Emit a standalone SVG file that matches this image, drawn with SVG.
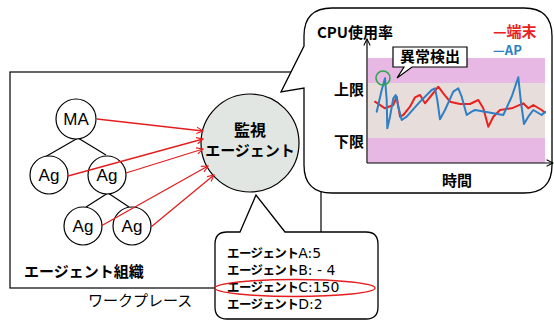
<svg xmlns="http://www.w3.org/2000/svg" width="554" height="322" viewBox="0 0 554 322">
<style>
.jp{font-family:"Noto Sans CJK JP","Liberation Sans",sans-serif}
.b{font-weight:700}
.node{fill:#fff;stroke:#000;stroke-width:1.2}
.lat{font-family:"Liberation Sans","Noto Sans",sans-serif;font-size:17px}
.blk{fill:none;stroke:#000;stroke-width:1.2}
.arr{fill:none;stroke:#e41e1e;stroke-width:1.3}
.kt{font-family:"Noto Sans CJK JP",sans-serif;font-weight:700;font-size:12.5px;letter-spacing:-0.6px}
.lt{font-family:"DejaVu Sans","Liberation Sans",sans-serif;font-weight:400;font-size:14px;letter-spacing:0}
</style>
<defs>
<marker id="ra" viewBox="0 0 10 10" refX="9" refY="5" markerWidth="8" markerHeight="8" markerUnits="userSpaceOnUse" orient="auto"><path d="M1,1 L9,5 L1,9" fill="none" stroke="#e41e1e" stroke-width="1.4"/></marker>
<marker id="ka" viewBox="0 0 10 10" refX="9" refY="5" markerWidth="8" markerHeight="8" markerUnits="userSpaceOnUse" orient="auto"><path d="M1,1 L9,5 L1,9" fill="none" stroke="#000" stroke-width="1.3"/></marker>
</defs>
<rect width="554" height="322" fill="#fff"/>
<g id="workplace">
<rect x="10" y="72" width="311" height="216" class="blk"/>
<text x="88" y="306" class="jp" font-size="15">ワークプレース</text>
<text x="24" y="277" class="jp b" font-size="15">エージェント組織</text>
</g>
<g id="tree-lines">
<line x1="78" y1="138" x2="45" y2="157" class="blk"/>
<line x1="78" y1="138" x2="106" y2="155" class="blk"/>
<line x1="108" y1="193" x2="86" y2="207" class="blk"/>
<line x1="108" y1="193" x2="129" y2="207" class="blk"/>
</g>
<g id="node-ma"><circle cx="76" cy="119" r="20" class="node"/><text x="76" y="125" text-anchor="middle" class="lat">MA</text></g>
<g id="node-ag1"><circle cx="49" cy="175" r="19" class="node"/><text x="49" y="181" text-anchor="middle" class="lat">Ag</text></g>
<g id="node-ag2"><circle cx="107" cy="175" r="19" class="node"/><text x="107" y="181" text-anchor="middle" class="lat">Ag</text></g>
<g id="node-ag3"><circle cx="83" cy="226" r="19" class="node"/><text x="83" y="232" text-anchor="middle" class="lat">Ag</text></g>
<g id="node-ag4"><circle cx="132" cy="226" r="19" class="node"/><text x="132" y="232" text-anchor="middle" class="lat">Ag</text></g>
<g id="node-monitor"><circle cx="250" cy="143" r="49" fill="#e2e6e3" stroke="#000" stroke-width="1.2"/>
<text x="250" y="136" text-anchor="middle" class="jp b" font-size="16">監視</text>
<text x="250" y="156" text-anchor="middle" class="jp b" font-size="15">エージェント</text></g>
<g id="connectors">
<line x1="97" y1="119" x2="203" y2="131" class="arr" marker-end="url(#ra)"/>
<line x1="68" y1="176" x2="203" y2="139" class="arr" marker-end="url(#ra)"/>
<line x1="126" y1="173" x2="203" y2="149" class="arr" marker-end="url(#ra)"/>
<line x1="101" y1="226" x2="208" y2="166" class="arr" marker-end="url(#ra)"/>
<line x1="151" y1="227" x2="214" y2="175" class="arr" marker-end="url(#ra)"/>
</g>
<g id="callout-chart">
<path d="M304,46 L304,36 Q304,8 332,8 L524,8 Q552,8 552,36 L552,165 Q552,193 524,193 L332,193 Q304,193 304,165 L304,88 L281,92 Z" fill="#fff" stroke="#000" stroke-width="1.3"/>
<rect x="368" y="58" width="177" height="25" fill="#e8b8e4"/>
<rect x="368" y="83" width="177" height="55" fill="#e7dedb"/>
<rect x="368" y="138" width="177" height="25" fill="#e8b8e4"/>
<line x1="367" y1="163" x2="367" y2="39" class="blk" marker-end="url(#ka)"/>
<line x1="367" y1="163" x2="553" y2="163" class="blk" marker-end="url(#ka)"/>
<polyline fill="none" stroke="#e8231f" stroke-width="2" stroke-linejoin="round" stroke-linecap="round" points="375,101.7 385,108.3 393.3,105 396.7,96.7 400,116.7 403.3,115 410,106.7 415,97.3 420,95 425,103.3 431.7,95 438.3,86.7 443.3,93.3 450,101.7 460,104 470,104 478.3,100 483.3,108.3 488.3,126.7 493.3,116.7 500,110 511.7,108.3 523.3,103.3 528.3,108.3 533.3,105 541.7,110 545,112.7"/>
<polyline fill="none" stroke="#2f7fc4" stroke-width="2" stroke-linejoin="round" stroke-linecap="round" points="376.7,111.7 381.7,90 385,78.3 386.7,100 387.3,128.3 390,116.7 393.3,98.3 395.7,95 398.3,106.7 401.7,120 406.7,116.7 420,101.7 431.7,90 435,88.3 437.3,100 440,119.3 445,110 453.3,91.7 458.3,88.3 461.7,96.7 466.7,115 471.7,111.7 475,110 485,111.7 493.3,113.3 503.3,115 511.7,96.7 518.3,77.3 520.7,100 524,124 528.3,116.7 533.3,110 541.7,115 545,111.7"/>
<circle cx="383" cy="78" r="7" fill="none" stroke="#2aa84a" stroke-width="1.6"/>
<path d="M393,47 L467,47 L467,67 L412,67 L397,78 L404,67 L393,67 Z" fill="#fff" stroke="#000" stroke-width="1.2"/>
<text x="430" y="62" text-anchor="middle" class="jp b" font-size="15">異常検出</text>
<text x="317" y="38" class="jp b" font-size="15">CPU使用率</text>
<text x="493" y="37" class="jp b" font-size="15" fill="#e8231f">—端末</text>
<text x="493" y="55" class="jp b" font-size="13" fill="#2f7fc4">—AP</text>
<text x="334" y="95" class="jp b" font-size="15">上限</text>
<text x="334" y="147" class="jp b" font-size="15">下限</text>
<text x="457" y="186" text-anchor="middle" class="jp b" font-size="15">時間</text>
</g>
<g id="callout-values">
<path d="M240,232 L256,195 L285,232 L366,232 Q378,232 378,244 L378,307 Q378,319 366,319 L227,319 Q215,319 215,307 L215,244 Q215,232 227,232 Z" fill="#fff" stroke="#000" stroke-width="1.3"/>
<text x="227" y="258"><tspan class="kt">エージェント</tspan><tspan class="lt">A:5</tspan></text>
<text x="227" y="275"><tspan class="kt">エージェント</tspan><tspan class="lt">B: - 4</tspan></text>
<text x="227" y="292"><tspan class="kt">エージェント</tspan><tspan class="lt">C:150</tspan></text>
<text x="227" y="309"><tspan class="kt">エージェント</tspan><tspan class="lt">D:2</tspan></text>
<ellipse cx="295" cy="288" rx="80" ry="8.5" fill="none" stroke="#e41e1e" stroke-width="1.4"/>
</g>
</svg>
